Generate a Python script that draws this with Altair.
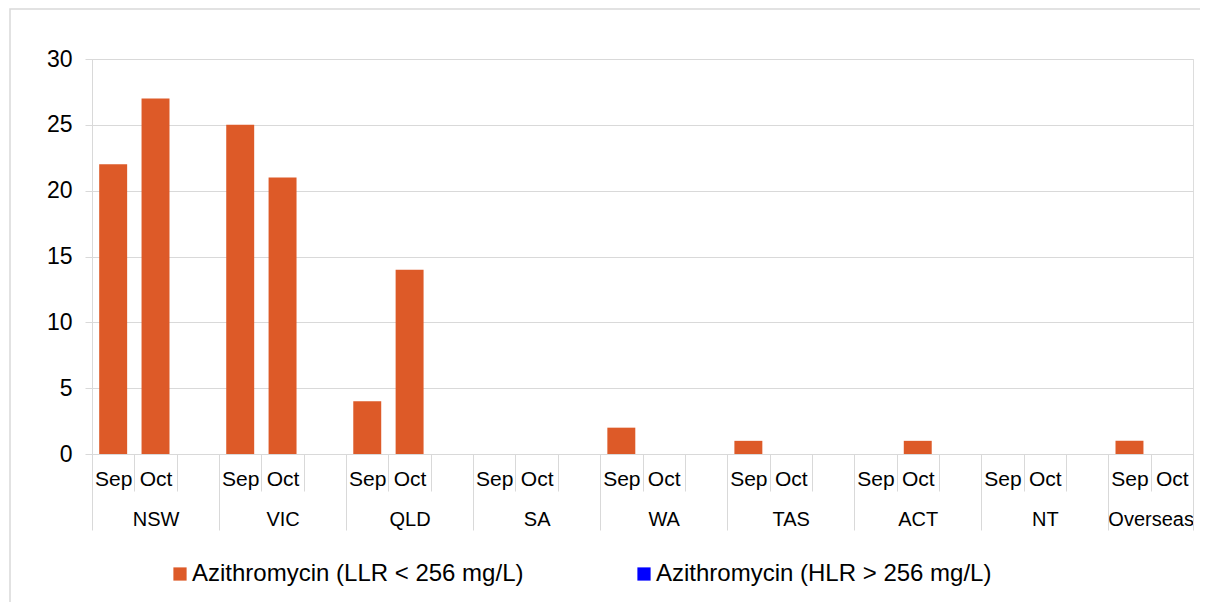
import altair as alt
import pandas as pd

# ---- data ----
regions = ["NSW", "VIC", "QLD", "SA", "WA", "TAS", "ACT", "NT", "Overseas"]
months = ["Sep", "Oct"]
llr_sep = [22, 25, 4, 0, 2, 1, 0, 0, 1]
llr_oct = [27, 21, 14, 0, 0, 0, 1, 0, 0]
hlr_sep = [0, 0, 0, 0, 0, 0, 0, 0, 0]
hlr_oct = [0, 0, 0, 0, 0, 0, 0, 0, 0]
series = ["Azithromycin (LLR < 256 mg/L)", "Azithromycin (HLR > 256 mg/L)"]
colors = ["#DD5A28", "#0000FF"]
y_ticks = [0, 5, 10, 15, 20, 25, 30]

FONT = "Liberation Sans"
GRID = "#D9D9D9"

# ---- slot structure: Sep, Oct, (gap) per region; last region has no gap ----
slot_order = []
group_start = []
group_size = []
for i, r in enumerate(regions):
    group_start.append(len(slot_order))
    slot_order += [f"{r}|{m}" for m in months]
    if i < len(regions) - 1:
        slot_order.append(f"{r}|")
    group_size.append(len(slot_order) - group_start[-1])
n_slots = len(slot_order)

rows = []
for i, r in enumerate(regions):
    for m, a, b in (("Sep", llr_sep[i], hlr_sep[i]), ("Oct", llr_oct[i], hlr_oct[i])):
        rows.append({"slot": f"{r}|{m}", "series": series[0], "value": a})
        rows.append({"slot": f"{r}|{m}", "series": series[1], "value": b})
df = pd.DataFrame(rows)

centers = [s + n / 2 for s, n in zip(group_start, group_size)]
groups_df = pd.DataFrame({"region": regions, "center": centers})
bounds = group_start + [n_slots]
bounds_df = pd.DataFrame({"b": bounds})

label_expr = " : ".join(f"datum.value == {c} ? '{r}'" for c, r in zip(centers, regions)) + " : ''"

W, H = 1101, 395

bars = alt.Chart(df).mark_bar(width=alt.RelativeBandSize(0.66)).encode(
    x=alt.X(
        "slot:N",
        sort=slot_order,
        scale=alt.Scale(domain=slot_order, paddingInner=0, paddingOuter=0),
        axis=alt.Axis(
            title=None,
            orient="bottom",
            labelExpr="split(datum.value, '|')[1]",
            labelAngle=0,
            labelFont=FONT,
            labelFontSize=21,
            labelColor="black",
            labelBaseline="alphabetic",
            labelPadding=-6,
            tickBand="extent",
            tickSize=37,
            tickColor=GRID,
            domainColor=GRID,
            grid=False,
        ),
    ),
    y=alt.Y(
        "value:Q",
        stack="zero",
        scale=alt.Scale(domain=[0, 30], nice=False),
        axis=alt.Axis(
            title=None,
            values=y_ticks,
            grid=True,
            gridColor=GRID,
            tickSize=7,
            tickColor=GRID,
            domainColor=GRID,
            labelFont=FONT,
            labelFontSize=23,
            labelColor="black",
            labelPadding=13,
        ),
    ),
    color=alt.Color(
        "series:N",
        scale=alt.Scale(domain=series, range=colors),
        legend=alt.Legend(
            title=None,
            orient="none",
            legendX=76,
            legendY=503,
            direction="horizontal",
            symbolType="square",
            symbolSize=175,
            symbolStrokeWidth=0,
            labelFont=FONT,
            labelFontSize=24,
            labelColor="black",
            labelLimit=0,
            labelOffset=0,
            columnPadding=108,
        ),
    ),
    order=alt.Order("series:N"),
)

group_labels = alt.Chart(groups_df).mark_point(opacity=0).encode(
    x=alt.X(
        "center:Q",
        scale=alt.Scale(domain=[0, n_slots], nice=False, zero=False),
        axis=alt.Axis(
            title=None,
            orient="bottom",
            values=centers,
            labelExpr=label_expr,
            labelFont=FONT,
            labelFontSize=20,
            labelColor="black",
            labelBaseline="alphabetic",
            labelPadding=71,
            labelFlush=False,
            labelOverlap=False,
            ticks=False,
            tickSize=0,
            domain=False,
            grid=False,
        ),
    ),
    y=alt.value(0),
)

group_bounds = alt.Chart(bounds_df).mark_point(opacity=0).encode(
    x=alt.X(
        "b:Q",
        scale=alt.Scale(domain=[0, n_slots], nice=False, zero=False),
        axis=alt.Axis(
            title=None,
            orient="bottom",
            values=bounds,
            labels=False,
            tickSize=76,
            tickColor=GRID,
            domain=False,
            grid=False,
        ),
    ),
    y=alt.value(0),
)

# light grey outer frame of the chart area (decoration only)
frame = alt.Chart(pd.DataFrame({"f": [0]})).mark_rect(
    fill=None, stroke=GRID, strokeWidth=1.5
).encode(
    x=alt.value(-82), x2=alt.value(W + 40),
    y=alt.value(-50), y2=alt.value(H + 200),
)

chart = (
    alt.layer(frame, bars, group_labels, group_bounds)
    .resolve_scale(x="independent")
    .properties(
        width=W,
        height=H,
        autosize=alt.AutoSizeParams(type="none"),
        padding={"left": 84, "top": 51, "right": 7, "bottom": 148},
    )
    .configure_view(stroke=None)
    .configure(background="white")
)

chart.save("out.html", embed_options={"renderer": "svg", "actions": False})
